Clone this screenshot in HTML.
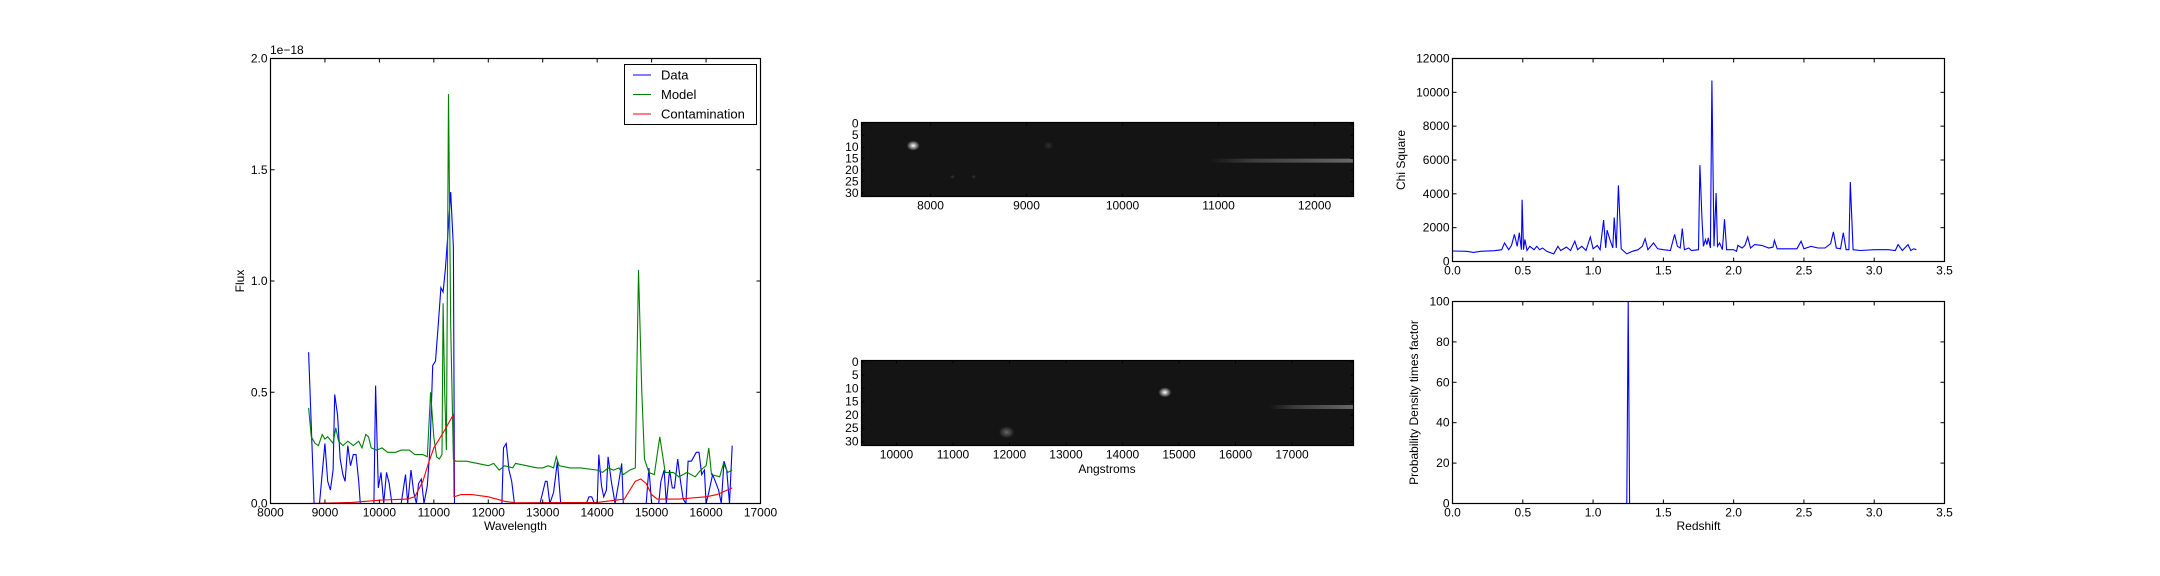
<!DOCTYPE html>
<html><head><meta charset="utf-8"><style>
body{margin:0;background:#fff;}
svg{display:block;font-family:"Liberation Sans","DejaVu Sans",sans-serif;}
</style></head><body>
<svg id="fig" width="2160" height="576" viewBox="0 0 2160 576" xmlns="http://www.w3.org/2000/svg">
<rect x="0" y="0" width="2160" height="576" fill="#fff"/>
<defs>
<radialGradient id="glow"><stop offset="0" stop-color="#fff" stop-opacity="1"/><stop offset="1" stop-color="#fff" stop-opacity="0"/></radialGradient>
<linearGradient id="trace1" x1="0" x2="1"><stop offset="0" stop-color="#777" stop-opacity="0"/><stop offset="0.3" stop-color="#777" stop-opacity="0.5"/><stop offset="1" stop-color="#999" stop-opacity="0.8"/></linearGradient>
</defs>
<g id="root"></g>
</svg>
<script>
// ---- Spectrum panel data ----
const dataWl = [8700,8800,8900,9000,9050,9100,9150,9180,9230,9280,9330,9370,9420,9470,9520,9570,9620,9650,9900,9930,9980,10030,10080,10130,10180,10230,10400,10480,10520,10580,10630,10680,10720,10770,10820,10880,10930,10980,11030,11080,11130,11170,11210,11270,11310,11360,11380,12250,12280,12330,12380,12430,12480,12950,13050,13080,13130,13200,13270,13330,13800,13850,13900,13950,14000,14030,14080,14120,14170,14200,14260,14330,14400,14450,14480,14900,14950,15000,15130,15170,15230,15270,15330,15380,15420,15480,15530,15580,15630,15670,15730,15820,15870,15920,15970,16000,16050,16120,16170,16230,16280,16330,16380,16430,16480];
const dataFlux = [0.68,0,0,0.27,0.1,0.06,0.15,0.49,0.4,0.2,0.13,0.1,0.26,0.17,0.22,0.22,0.1,0,0,0.53,0.07,0.14,0,0.14,0.09,0,0,0.13,0,0.15,0.05,0,0.09,0.11,0,0.08,0.25,0.62,0.64,0.8,0.97,0.95,1.05,1.25,1.4,1.15,0,0,0.25,0.27,0.15,0.1,0,0,0.1,0.1,0,0.05,0.19,0,0,0.03,0.03,0,0,0.22,0.08,0.03,0.06,0.21,0.1,0,0.1,0.18,0,0,0.16,0,0,0.1,0.15,0,0.15,0.07,0.07,0.2,0.1,0.02,0,0.19,0.19,0.23,0.23,0.13,0.15,0,0.05,0.13,0.1,0.06,0,0.19,0.15,0,0.26];
const modelWl = [8700,8750,8820,8880,8950,9000,9050,9150,9200,9250,9330,9420,9520,9620,9680,9750,9800,9850,9950,10050,10150,10300,10400,10550,10650,10800,10880,10940,11000,11050,11100,11150,11170,11200,11230,11270,11310,11360,11400,11600,11800,12000,12100,12200,12300,12450,12500,12700,12900,13000,13100,13200,13250,13300,13500,13700,14000,14100,14200,14300,14400,14480,14600,14700,14760,14820,14870,14950,15050,15150,15250,15400,15500,15650,15800,15900,16000,16050,16100,16250,16320,16400,16480];
const modelFlux = [0.43,0.3,0.27,0.26,0.31,0.29,0.3,0.27,0.34,0.28,0.26,0.28,0.26,0.28,0.25,0.31,0.3,0.25,0.24,0.25,0.23,0.23,0.24,0.24,0.22,0.22,0.21,0.5,0.3,0.21,0.2,0.22,0.9,0.5,0.24,1.84,0.8,0.2,0.19,0.19,0.18,0.17,0.18,0.15,0.17,0.16,0.18,0.17,0.16,0.16,0.17,0.16,0.21,0.17,0.16,0.16,0.15,0.14,0.16,0.15,0.16,0.13,0.15,0.16,1.05,0.5,0.2,0.14,0.13,0.3,0.14,0.14,0.12,0.14,0.12,0.15,0.17,0.25,0.13,0.12,0.18,0.14,0.15];
const contWl = [8700,9500,10000,10500,10650,10800,10900,11000,11100,11200,11360,11370,11500,11700,12000,12300,12500,14000,14500,14600,14700,14800,14900,15000,15100,15500,16000,16200,16480];
const contFlux = [0,0.005,0.015,0.02,0.03,0.1,0.18,0.25,0.29,0.33,0.4,0.03,0.04,0.04,0.03,0.01,0.003,0.005,0.02,0.06,0.1,0.11,0.09,0.04,0.02,0.02,0.03,0.04,0.07];
const specXTicks = [8000,9000,10000,11000,12000,13000,14000,15000,16000,17000];
const specYTicks = [0,0.5,1.0,1.5,2.0];
const specYLabels = ["0.0","0.5","1.0","1.5","2.0"];
// ---- Chi-square panel data ----
const chiZ = [0,0.1,0.15,0.2,0.3,0.35,0.37,0.4,0.42,0.44,0.46,0.475,0.49,0.495,0.505,0.515,0.53,0.55,0.58,0.6,0.62,0.64,0.67,0.72,0.75,0.77,0.81,0.84,0.87,0.89,0.92,0.95,0.98,1.0,1.03,1.05,1.075,1.09,1.1,1.12,1.14,1.15,1.165,1.18,1.2,1.24,1.28,1.32,1.35,1.37,1.39,1.43,1.46,1.5,1.55,1.58,1.6,1.62,1.635,1.65,1.68,1.7,1.75,1.76,1.775,1.785,1.8,1.81,1.82,1.835,1.845,1.86,1.875,1.885,1.9,1.92,1.935,1.95,2.0,2.02,2.03,2.06,2.08,2.1,2.12,2.15,2.2,2.25,2.28,2.29,2.31,2.45,2.48,2.5,2.55,2.6,2.65,2.69,2.71,2.73,2.76,2.78,2.8,2.82,2.83,2.85,2.9,3.0,3.1,3.15,3.17,3.2,3.24,3.26,3.28,3.3];
const chiVal = [620,600,540,600,640,700,1100,700,950,1600,900,1700,700,3650,700,1300,650,900,700,900,700,800,600,450,900,650,850,650,1200,700,900,650,1450,750,950,700,2450,800,1850,1300,800,2600,800,4500,750,450,600,700,900,1350,700,1100,750,700,650,1600,900,800,1950,700,800,650,700,5700,2500,900,1300,1000,1400,800,10700,900,4050,900,1100,700,2500,700,700,600,950,800,950,1450,800,1000,950,800,850,1250,750,750,1200,750,900,800,800,1050,1750,800,750,1700,700,700,4700,700,650,700,700,650,1000,650,1000,650,750,700];
const chiXTicks = [0,0.5,1.0,1.5,2.0,2.5,3.0,3.5];
const chiXLabels = ["0.0","0.5","1.0","1.5","2.0","2.5","3.0","3.5"];
const chiYTicks = [0,2000,4000,6000,8000,10000,12000];
// ---- Probability panel data ----
const probZ = [0,1.24,1.25,1.26,3.3];
const probVal = [0,0,100,0,0];
const probYTicks = [0,20,40,60,80,100];
// ---- 2D image ticks ----
const img1XTicks = [8000,9000,10000,11000,12000];
const img2XTicks = [10000,11000,12000,13000,14000,15000,16000,17000];
const imgYTicks = [0,5,10,15,20,25,30];

const NS="http://www.w3.org/2000/svg";
const root=document.getElementById('root');
const FS=12;
function mk(tag,attrs,parent){const e=document.createElementNS(NS,tag);for(const k in attrs)e.setAttribute(k,attrs[k]);(parent||root).appendChild(e);return e;}
function txt(s,x,y,anchor,parent,extra){const t=mk('text',Object.assign({x:x,y:y,'text-anchor':anchor,'font-size':FS,fill:'#000'},extra||{}),parent);t.textContent=s;return t;}
function scale(d0,d1,r0,r1){return v=>r0+(v-d0)/(d1-d0)*(r1-r0);}

function axesFrame(g,L,T,R,B,xs,ys,xt,xl,yt,yl,tick){
  xt.forEach((v,i)=>{const x=xs(v);
    mk('line',{x1:x,y1:B,x2:x,y2:B-tick,stroke:'#000','stroke-width':1},g);
    mk('line',{x1:x,y1:T,x2:x,y2:T+tick,stroke:'#000','stroke-width':1},g);
    const t=txt(xl[i],x,B+13,'middle',g);
    
    
  });
  yt.forEach((v,i)=>{const y=ys(v);
    mk('line',{x1:L,y1:y,x2:L+tick,y2:y,stroke:'#000','stroke-width':1},g);
    mk('line',{x1:R,y1:y,x2:R-tick,y2:y,stroke:'#000','stroke-width':1},g);
    const t=txt(yl[i],L-3,y+4,'end',g);
    
    
  });
  const f=mk('rect',{x:L,y:T,width:R-L,height:B-T,fill:'none',stroke:'#000','stroke-width':1.2},g);
  
  
}
function line(g,xs,ys,X,Y,color,name){
  const d=X.map((v,i)=>(i?'L':'M')+xs(v).toFixed(1)+','+ys(Y[i]).toFixed(1)).join('');
  const p=mk('path',{d:d,fill:'none',stroke:color,'stroke-width':1.1},g);
  
  
  return p;
}

// ===== Spectrum =====
(function(){
  const L=270.5,T=58.5,R=760.5,B=503.5;
  const g=mk('g',{});
  
  
  const xs=scale(8000,17000,L,R), ys=scale(0,2,B,T);
  const cp=mk('clipPath',{id:'c1'},g);mk('rect',{x:L,y:T,width:R-L,height:B-T},cp);
  const pg=mk('g',{'clip-path':'url(#c1)'},g);
  line(pg,xs,ys,dataWl,dataFlux,'#0000ff','data-series');
  line(pg,xs,ys,modelWl,modelFlux,'#008000','model-series');
  line(pg,xs,ys,contWl,contFlux,'#ff0000','contamination-series');
  axesFrame(g,L,T,R,B,xs,ys,specXTicks,specXTicks.map(String),specYTicks,specYLabels,4);
  let t=txt('1e\u221218',270,54,'start',g);
  
  
  t=txt('Wavelength',(L+R)/2,530,'middle',g);
  
  
  t=txt('Flux',0,0,'middle',g,{transform:'translate(244,'+((T+B)/2)+') rotate(-90)'});
  
  
  const lg=mk('g',{},g);
  
  
  mk('rect',{x:624.5,y:64.5,width:132,height:60,fill:'#fff',stroke:'#000','stroke-width':1},lg);
  [['Data','#0000ff'],['Model','#008000'],['Contamination','#ff0000']].forEach((e,i)=>{
    const y=75+i*19.5;
    const ent=mk('g',{},lg);
    
    
    mk('line',{x1:633,y1:y,x2:651,y2:y,stroke:e[1],'stroke-width':1},ent);
    txt(e[0],661,y+4.5,'start',ent,{'font-size':13});
  });
})();

// ===== 2D images =====
function spectrum2d(L,T,R,B,x0,x1,xt,name,spots,trace){
  const g=mk('g',{});
  
  
  const xs=scale(x0,x1,L,R), ys=scale(-0.5,31.5,T,B);
  const bg=mk('rect',{x:L,y:T,width:R-L,height:B-T,fill:'#141414'},g);
  
  
  const cp=mk('clipPath',{id:name+'c'},g);mk('rect',{x:L,y:T,width:R-L,height:B-T},cp);
  const pg=mk('g',{'clip-path':'url(#'+name+'c)'},g);
  mk('rect',{x:xs(trace[0]),y:ys(trace[2])-2,width:R-xs(trace[0]),height:4,fill:'url(#trace1)',opacity:0.8},pg);
  spots.forEach(s=>{mk('ellipse',{cx:xs(s[0]),cy:ys(s[1]),rx:s[2]*1.3,ry:s[2],fill:'url(#glow)',opacity:s[3]},pg);});
  axesFrame(g,L,T,R,B,xs,ys,xt,xt.map(String),imgYTicks,imgYTicks.map(String),3);
  return g;
}
spectrum2d(861.5,122.5,1353.5,196.5,7281,12406,img1XTicks,'direct-image-1',[[7820,9.5,5,1],[9230,9.5,4,0.12],[8230,23,2,0.15],[8450,23,2,0.15]],[10900,12406,16]);
spectrum2d(861.5,360.5,1353.5,445.5,9381,18088,img2XTicks,'direct-image-2',[[14750,11.5,5,1],[11950,26.5,6,0.35]],[16600,18088,17]);
(function(){const t=txt('Angstroms',1107,473,'middle');

})();

// ===== Chi square =====
(function(){
  const L=1452.5,T=58.5,R=1944.5,B=261.5;
  const g=mk('g',{});
  
  
  const xs=scale(0,3.5,L,R), ys=scale(0,12000,B,T);
  line(g,xs,ys,chiZ,chiVal,'#0000ff','chi-square-series');
  axesFrame(g,L,T,R,B,xs,ys,chiXTicks,chiXLabels,chiYTicks,chiYTicks.map(String),4);
  const t=txt('Chi Square',0,0,'middle',g,{transform:'translate(1405,'+((T+B)/2)+') rotate(-90)'});
  
  
})();
// ===== Probability =====
(function(){
  const L=1452.5,T=301.5,R=1944.5,B=503.5;
  const g=mk('g',{});
  
  
  const xs=scale(0,3.5,L,R), ys=scale(0,100,B,T);
  const cp=mk('clipPath',{id:'c4'},g);mk('rect',{x:L,y:T,width:R-L,height:B-T},cp);
  const pg=mk('g',{'clip-path':'url(#c4)'},g);
  line(pg,xs,ys,probZ,probVal,'#0000ff','probability-series');
  axesFrame(g,L,T,R,B,xs,ys,chiXTicks,chiXLabels,probYTicks,probYTicks.map(String),4);
  let t=txt('Redshift',(L+R)/2,530,'middle',g);
  
  
  t=txt('Probability Density times factor',0,0,'middle',g,{transform:'translate(1418,'+((T+B)/2)+') rotate(-90)'});
  
  
})();
</script>
</body></html>
